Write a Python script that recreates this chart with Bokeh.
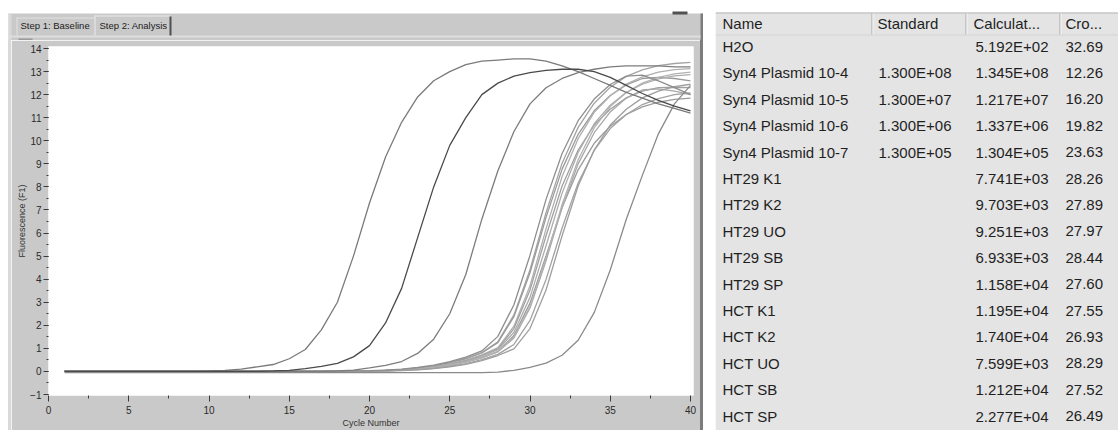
from bokeh.plotting import figure
from bokeh.models import Range1d, FixedTicker, SingleIntervalTicker, Spacer
from bokeh.layouts import row, column
from bokeh.core.properties import value
from bokeh.embed import file_html
from bokeh.resources import INLINE

# ---------------- data ----------------
cycles = list(range(1, 41))

h2o = [-0.05, -0.05, -0.05, -0.05, -0.05, -0.05, -0.05, -0.05, -0.05, -0.05,
       -0.05, -0.05, -0.05, -0.05, -0.05, -0.05, -0.05, -0.05, -0.05, -0.05,
       -0.05, -0.05, -0.05, -0.05, -0.05, -0.05, -0.05, -0.03, 0.05, 0.18,
       0.36, 0.7, 1.35, 2.55, 4.4, 6.6, 8.5, 10.3, 11.6, 12.4]
syn4_10_4 = [0.0, 0.0, 0.0, 0.0, 0.0, 0.0, 0.0, 0.0, 0.0, 0.02,
             0.05, 0.1, 0.2, 0.3, 0.55, 0.95, 1.8, 3.0, 5.0, 7.3,
             9.3, 10.8, 11.9, 12.6, 13.0, 13.3, 13.45, 13.5, 13.55, 13.55,
             13.45, 13.25, 13.0, 12.7, 12.4, 12.1, 11.85, 11.6, 11.4, 11.2]
syn4_10_5 = [0.0, 0.0, 0.0, 0.0, 0.0, 0.0, 0.0, 0.0, 0.0, 0.0,
             0.0, 0.0, 0.0, 0.02, 0.05, 0.12, 0.22, 0.35, 0.63, 1.12,
             2.1, 3.6, 5.8, 8.0, 9.8, 11.0, 12.0, 12.5, 12.8, 12.95,
             13.05, 13.1, 13.1, 13.0, 12.75, 12.4, 12.05, 11.75, 11.5, 11.3]
syn4_10_6 = [0.0, 0.0, 0.0, 0.0, 0.0, 0.0, 0.0, 0.0, 0.0, 0.0,
             0.0, 0.0, 0.0, 0.0, 0.0, 0.0, 0.0, 0.02, 0.06, 0.15,
             0.26, 0.43, 0.78, 1.4, 2.5, 4.2, 6.6, 8.7, 10.4, 11.6,
             12.3, 12.7, 12.95, 13.1, 13.2, 13.25, 13.25, 13.25, 13.2, 13.2]
syn4_10_7 = [0.0, 0.0, 0.0, 0.0, 0.0, 0.0, 0.0, 0.0, 0.0, 0.0,
             0.0, 0.0, 0.0, 0.0, 0.0, 0.0, 0.0, 0.01, 0.02, 0.03,
             0.06, 0.1, 0.17, 0.27, 0.42, 0.62, 0.89, 1.52, 2.89, 5.04,
             7.46, 9.45, 10.87, 11.81, 12.44, 12.8, 12.85, 12.6, 12.3, 12.0]
ht29_k1 = [0.0, 0.0, 0.0, 0.0, 0.0, 0.0, 0.0, 0.0, 0.0, 0.0,
           0.0, 0.0, 0.0, 0.0, 0.0, 0.0, 0.0, 0.0, 0.01, 0.03,
           0.05, 0.08, 0.15, 0.24, 0.38, 0.57, 0.82, 1.29, 2.45, 4.41,
           6.88, 9.03, 10.58, 11.63, 12.32, 12.79, 13.07, 13.26, 13.35, 13.4]
ht29_k2 = [0.0, 0.0, 0.0, 0.0, 0.0, 0.0, 0.0, 0.0, 0.0, 0.0,
           0.0, 0.0, 0.0, 0.0, 0.0, 0.0, 0.0, 0.0, 0.01, 0.03,
           0.05, 0.08, 0.14, 0.23, 0.37, 0.55, 0.8, 1.25, 2.38, 4.28,
           6.68, 8.77, 10.28, 11.3, 11.96, 12.42, 12.7, 12.75, 12.7, 12.6]
ht29_uo = [0.0, 0.0, 0.0, 0.0, 0.0, 0.0, 0.0, 0.0, 0.0, 0.0,
           0.0, 0.0, 0.0, 0.0, 0.0, 0.0, 0.0, 0.0, 0.01, 0.02,
           0.04, 0.07, 0.12, 0.21, 0.33, 0.49, 0.72, 1.03, 1.96, 3.71,
           6.18, 8.45, 10.09, 11.23, 11.95, 12.46, 12.77, 12.98, 13.08, 13.13]
ht29_sb = [0.0, 0.0, 0.0, 0.0, 0.0, 0.0, 0.0, 0.0, 0.0, 0.0,
           0.0, 0.0, 0.0, 0.0, 0.0, 0.0, 0.0, 0.0, 0.01, 0.02,
           0.04, 0.07, 0.12, 0.2, 0.31, 0.47, 0.69, 0.98, 1.86, 3.53,
           5.88, 8.04, 9.6, 10.68, 11.37, 11.86, 12.15, 12.3, 12.32, 12.3]
ht29_sp = [0.0, 0.0, 0.0, 0.0, 0.0, 0.0, 0.0, 0.0, 0.0, 0.0,
           0.0, 0.0, 0.0, 0.0, 0.0, 0.0, 0.0, 0.0, 0.01, 0.02,
           0.04, 0.06, 0.11, 0.18, 0.29, 0.44, 0.66, 0.94, 1.7, 3.21,
           5.45, 7.73, 9.49, 10.74, 11.54, 12.1, 12.45, 12.68, 12.81, 12.87]
hct_k1 = [0.0, 0.0, 0.0, 0.0, 0.0, 0.0, 0.0, 0.0, 0.0, 0.0,
          0.0, 0.0, 0.0, 0.0, 0.0, 0.0, 0.0, 0.0, 0.01, 0.02,
          0.04, 0.06, 0.1, 0.17, 0.27, 0.41, 0.6, 0.86, 1.56, 2.96,
          5.02, 7.11, 8.74, 9.89, 10.63, 11.14, 11.47, 11.67, 11.79, 11.85]
hct_k2 = [0.0, 0.0, 0.0, 0.0, 0.0, 0.0, 0.0, 0.0, 0.0, 0.0,
          0.0, 0.0, 0.0, 0.0, 0.0, 0.0, 0.0, 0.0, 0.01, 0.02,
          0.03, 0.06, 0.1, 0.16, 0.26, 0.4, 0.59, 0.85, 1.45, 2.75,
          4.8, 7.1, 9.0, 10.35, 11.25, 11.85, 12.2, 12.25, 12.15, 12.0]
hct_uo = [0.0, 0.0, 0.0, 0.0, 0.0, 0.0, 0.0, 0.0, 0.0, 0.0,
          0.0, 0.0, 0.0, 0.0, 0.0, 0.0, 0.0, 0.0, 0.01, 0.02,
          0.03, 0.06, 0.1, 0.16, 0.27, 0.41, 0.6, 0.87, 1.48, 2.81,
          4.9, 7.24, 9.18, 10.56, 11.48, 12.09, 12.5, 12.75, 12.9, 12.98]
hct_sb = [0.0, 0.0, 0.0, 0.0, 0.0, 0.0, 0.0, 0.0, 0.0, 0.0,
          0.0, 0.0, 0.0, 0.0, 0.0, 0.0, 0.0, 0.0, 0.0, 0.01,
          0.03, 0.05, 0.08, 0.13, 0.22, 0.34, 0.51, 0.74, 1.17, 2.21,
          3.99, 6.22, 8.17, 9.58, 10.53, 11.14, 11.57, 11.83, 12.0, 12.07]
hct_sp = [0.0, 0.0, 0.0, 0.0, 0.0, 0.0, 0.0, 0.0, 0.0, 0.0,
          0.0, 0.0, 0.0, 0.0, 0.0, 0.0, 0.0, 0.0, 0.0, 0.01,
          0.02, 0.04, 0.07, 0.12, 0.2, 0.31, 0.47, 0.69, 0.98, 1.86,
          3.53, 5.88, 8.04, 9.6, 10.68, 11.37, 11.86, 12.15, 12.35, 12.45]

x_ticks = [0, 5, 10, 15, 20, 25, 30, 35, 40]
x_minor_ticks = [2.5, 7.5, 12.5, 17.5, 22.5, 27.5, 32.5, 37.5]

tab_labels = ["Step 1: Baseline", "Step 2: Analysis"]

table_headers = ["Name", "Standard", "Calculat...", "Cro..."]
sample_names = ["H2O", "Syn4 Plasmid 10-4", "Syn4 Plasmid 10-5", "Syn4 Plasmid 10-6",
                "Syn4 Plasmid 10-7", "HT29 K1", "HT29  K2", "HT29 UO", "HT29 SB",
                "HT29 SP", "HCT K1", "HCT K2", "HCT UO", "HCT SB", "HCT SP"]
standard_qty = [None, 1.3e8, 1.3e7, 1.3e6, 1.3e5, None, None, None, None, None,
                None, None, None, None, None]
calculated_qty = [5.192e2, 1.345e8, 1.217e7, 1.337e6, 1.304e5, 7.741e3, 9.703e3,
                  9.251e3, 6.933e3, 1.158e4, 1.195e4, 1.740e4, 7.599e3, 1.212e4, 2.277e4]
crossing_pt = [32.69, 12.26, 16.20, 19.82, 23.63, 28.26, 27.89, 27.97, 28.44, 27.60,
               27.55, 26.93, 28.29, 27.52, 26.49]

# curves in drawing order, with their stroke grey
series = [
    (ht29_k1, "#a4a4a4"), (ht29_k2, "#9a9a9a"), (ht29_uo, "#b0b0b0"),
    (ht29_sb, "#a0a0a0"), (ht29_sp, "#acacac"), (hct_k1, "#9c9c9c"),
    (hct_k2, "#a8a8a8"), (hct_uo, "#b2b2b2"), (hct_sb, "#a2a2a2"),
    (hct_sp, "#9e9e9e"), (syn4_10_7, "#8e8e8e"),
    (syn4_10_6, "#7c7c7c"), (h2o, "#8a8a8a"), (syn4_10_4, "#7a7a7a"),
    (syn4_10_5, "#4a4a4a"),
]

# ---------------- layout constants (page px) ----------------
W, H = 1118, 430
PANEL = "#c9c9c9"
TABLE_BG = "#e4e4e4"
FONT = "Liberation Sans"
PANEL_L, PANEL_R, PANEL_T = 8, 703, 13
TABS_H = 40                                 # height of the tab strip figure
FL, FR, FT, FB = 48, 693, 46, 395           # chart frame edges on the page
X0PX, X40PX = 48, 690                       # page px of cycle 0 and cycle 40
Y14PX, YM1PX = 48, 394                      # page px of 14 and -1
EDGE = 3
TBL_L, TBL_T = 715, 12

# ---------------- tab strip (pixel space figure) ----------------
tabs = figure(width=PANEL_R, height=TABS_H, output_backend="svg", toolbar_location=None,
              x_range=Range1d(0, PANEL_R), y_range=Range1d(TABS_H, 0),
              x_axis_type=None, y_axis_type=None, min_border=0)
tabs.grid.visible = False
tabs.outline_line_color = None
tabs.background_fill_color = "white"
tabs.border_fill_color = "white"
chrome_l = [PANEL_L, PANEL_L, PANEL_R - EDGE, PANEL_L, 16, 16, 94, 94, 169, 672, 18]
chrome_r = [PANEL_R, PANEL_L + EDGE, PANEL_R, PANEL_R - EDGE, 94, 17, 170, 95, 171, 687, 32]
chrome_t = [PANEL_T, PANEL_T, PANEL_T, 35, 17, 17, 15, 15, 16, 11, 38]
chrome_b = [TABS_H, TABS_H, TABS_H, 37, 18, 35, 16, 35, 35, 14, 40]
chrome_c = [PANEL, "#d9d9d9", "#7c7c7c", "#dedede", "#e2e2e2", "#e2e2e2",
            "#ececec", "#ececec", "#505050", "#505050", "#9a9a9a"]
tabs.quad(left=chrome_l, right=chrome_r, top=chrome_t, bottom=chrome_b,
          fill_color=chrome_c, line_color=None)
tabs.text(x=[20, 99], y=[25, 25], text=tab_labels, text_font=value(FONT),
          text_font_size=value("9.5px"), text_color="#222222",
          text_baseline="middle", text_align="left")

# ---------------- amplification chart ----------------
xs_per_px = 40.0 / (X40PX - X0PX)
ys_per_px = 15.0 / (YM1PX - Y14PX)
x_range = Range1d(0 - (X0PX - FL) * xs_per_px, 40 + (FR - X40PX) * xs_per_px)
y_range = Range1d(-1 - (FB - YM1PX) * ys_per_px, 14 + (Y14PX - FT) * ys_per_px)

chart_left = PANEL_L + EDGE
chart_right = PANEL_R - EDGE
p = figure(width=chart_right - chart_left, height=H - TABS_H,
           output_backend="svg", toolbar_location=None,
           x_range=x_range, y_range=y_range,
           min_border_left=FL - chart_left, min_border_right=chart_right - FR,
           min_border_top=FT - TABS_H, min_border_bottom=H - FB)
p.border_fill_color = PANEL
p.background_fill_color = "white"
p.outline_line_color = None
p.grid.visible = False

for vals, col in series:
    p.line(cycles, vals, line_color=col, line_width=1.3)

p.xaxis.ticker = FixedTicker(ticks=x_ticks, minor_ticks=x_minor_ticks)
p.yaxis.ticker = SingleIntervalTicker(interval=1, num_minor_ticks=2)
for ax in (p.xaxis, p.yaxis):
    ax.axis_line_color = None
    ax.major_tick_in = 0
    ax.minor_tick_in = 0
    ax.major_tick_line_color = "#3a3a3a"
    ax.minor_tick_line_color = "#3a3a3a"
    ax.major_label_text_font = FONT
    ax.major_label_text_font_size = "10px"
    ax.major_label_text_color = "#2a2a2a"
    ax.axis_label_text_font = FONT
    ax.axis_label_text_font_size = "9px"
    ax.axis_label_text_font_style = "normal"
    ax.axis_label_text_color = "#333333"
p.xaxis.major_tick_out = 6
p.xaxis.minor_tick_out = 3
p.xaxis.major_label_standoff = 4
p.xaxis.axis_label = "Cycle Number"
p.xaxis.axis_label_standoff = 1
p.yaxis.major_tick_out = 5
p.yaxis.minor_tick_out = 2
p.yaxis.major_label_standoff = 2
p.yaxis.axis_label = "Fluorescence (F1)"
p.yaxis.axis_label_standoff = 0

chart_row = row(Spacer(width=PANEL_L, height=H - TABS_H),
                Spacer(width=EDGE, height=H - TABS_H, styles={"background-color": "#d9d9d9"}),
                p,
                Spacer(width=EDGE, height=H - TABS_H, styles={"background-color": "#7c7c7c"}))
left_block = column(tabs, chart_row)

# ---------------- results table (pixel space figure) ----------------
t = figure(width=W - PANEL_R - 12, height=H, output_backend="svg", toolbar_location=None,
           x_range=Range1d(TBL_L, W), y_range=Range1d(H, 0),
           x_axis_type=None, y_axis_type=None, min_border=0)
t.grid.visible = False
t.outline_line_color = None
t.background_fill_color = "white"
t.border_fill_color = "white"

HEAD_Y = 23
FIRST_ROW_Y = 46
ROW_H = 26.4
HEAD_B = 34
col_x_head = [722, 877, 973, 1065]
col_x_val = [722, 878, 975, 1065]
sep_x = [872, 966, 1060]

t.quad(left=[TBL_L], right=[W], top=[TBL_T], bottom=[H], fill_color=TABLE_BG, line_color=None)
t.quad(left=[TBL_L, TBL_L], right=[W, W], top=[TBL_T, HEAD_B], bottom=[TBL_T + 1, HEAD_B + 1],
       fill_color=["#b8b8b8", "#d4d4d4"], line_color=None)
t.quad(left=[s - 1 for s in sep_x], right=sep_x, top=[TBL_T + 1] * 3, bottom=[HEAD_B] * 3,
       fill_color="#a6a6a6", line_color=None)
t.quad(left=sep_x, right=[s + 1 for s in sep_x], top=[TBL_T + 1] * 3, bottom=[HEAD_B] * 3,
       fill_color="#f6f6f6", line_color=None)

t.text(x=col_x_head, y=[HEAD_Y] * 4, text=table_headers, text_font=value(FONT),
       text_font_size=value("15px"), text_color="#1f1f1f",
       text_baseline="middle", text_align="left")

row_y = [FIRST_ROW_Y + ROW_H * i for i in range(len(sample_names))]
std_txt = ["" if v is None else "%.3E" % v for v in standard_qty]
calc_txt = ["%.3E" % v for v in calculated_qty]
cro_txt = ["%.2f" % v for v in crossing_pt]
for cx, texts in zip(col_x_val, (sample_names, std_txt, calc_txt, cro_txt)):
    t.text(x=[cx] * len(texts), y=row_y, text=texts, text_font=value(FONT),
           text_font_size=value("15px"), text_color="#1f1f1f",
           text_baseline="middle", text_align="left")

layout = row(left_block, Spacer(width=12, height=H), t)

open("out.html", "w").write(file_html(layout, INLINE))
